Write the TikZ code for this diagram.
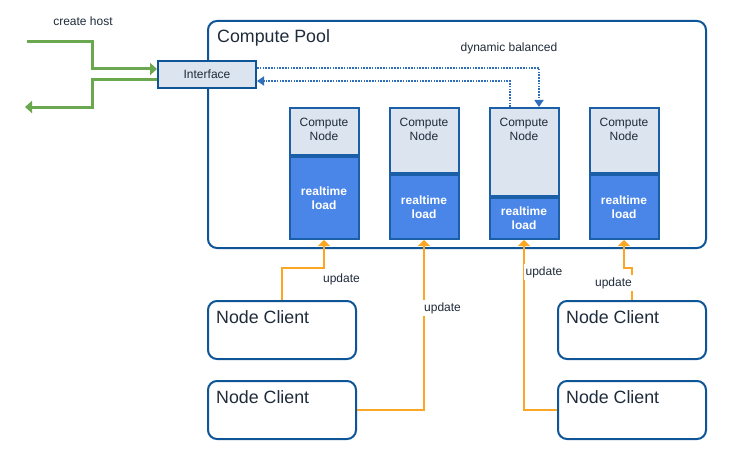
\documentclass[tikz,border=0pt]{standalone}
\usepackage{fontspec}
\setmainfont{Liberation Sans}
\usetikzlibrary{arrows.meta}
\definecolor{poolblue}{HTML}{0E5598}
\definecolor{nodeblue}{HTML}{1B5FA8}
\definecolor{headfill}{HTML}{DCE4EF}
\definecolor{loadfill}{HTML}{4A86E8}
\definecolor{dotblue}{HTML}{2F6EBA}
\definecolor{hostgreen}{HTML}{6AA84F}
\definecolor{updorange}{HTML}{FBA625}
\definecolor{ink}{HTML}{1F2B3A}
\begin{document}
\begin{tikzpicture}[x=1pt,y=-1pt]
\tikzstyle{every node}+=[font=\fontsize{12}{14}\selectfont, text=ink]
\tikzstyle{bigtext}=[font=\fontsize{17.8}{20}\selectfont]
\tikzstyle{pool}=[draw=poolblue, line width=2pt, rounded corners=9pt, minimum width=498pt, minimum height=227pt, inner sep=0pt]
\tikzstyle{client}=[draw=poolblue, line width=2pt, rounded corners=9pt, minimum width=148pt, minimum height=58pt, inner sep=0pt]
\tikzstyle{iface}=[draw=poolblue, fill=headfill, line width=2pt, minimum width=98pt, minimum height=27pt, inner sep=0pt]
\tikzstyle{cnhead}=[draw=nodeblue, fill=headfill, line width=2pt, minimum width=69pt, inner sep=0pt]
\tikzstyle{cnbody}=[draw=nodeblue, fill=loadfill, line width=2pt, minimum width=69pt, inner sep=0pt, anchor=north, align=center, text=white, font=\fontsize{12}{14}\selectfont\bfseries]
\tikzstyle{hostline}=[draw=hostgreen, line width=3pt, -{Triangle[width=12pt,length=7pt]}]
\tikzstyle{dotline}=[draw=dotblue, line width=1.8pt, dash pattern=on 1.6pt off 1.2pt, -{Triangle[width=9pt,length=7pt]}]
\tikzstyle{updline}=[draw=updorange, line width=2.5pt, -{Triangle[width=12pt,length=6pt]}]
\tikzstyle{updlabel}=[fill=white, inner sep=2pt]
\useasboundingbox (0,0) rectangle (734,460);
\node[pool, label={[bigtext, anchor=base west, inner sep=0pt, xshift=10pt, yshift=-23pt]north west:Compute Pool}] (pool) at (457,134.5) {};
\node[iface] (iface) at (207,74.5) {Interface};
\node[cnhead, minimum height=47pt, label={[anchor=north, align=center, inner sep=0pt, yshift=-11pt]north:Compute\\Node}] (cn1t) at (324,131.5) {};
\node[cnbody, minimum height=82pt] (cn1b) at (cn1t.south) {realtime\\load};
\node[cnhead, minimum height=65pt, label={[anchor=north, align=center, inner sep=0pt, yshift=-11pt]north:Compute\\Node}] (cn2t) at (424,140.5) {};
\node[cnbody, minimum height=64pt] (cn2b) at (cn2t.south) {realtime\\load};
\node[cnhead, minimum height=88pt, label={[anchor=north, align=center, inner sep=0pt, yshift=-11pt]north:Compute\\Node}] (cn3t) at (524,152) {};
\node[cnbody, minimum height=41pt] (cn3b) at (cn3t.south) {realtime\\load};
\node[cnhead, minimum height=65pt, label={[anchor=north, align=center, inner sep=0pt, yshift=-11pt]north:Compute\\Node}] (cn4t) at (624,140.5) {};
\node[cnbody, minimum height=64pt] (cn4b) at (cn4t.south) {realtime\\load};
\node[client, label={[bigtext, anchor=base west, inner sep=0pt, xshift=9pt, yshift=-23pt]north west:Node Client}] (nc1) at (282,330) {};
\node[client, label={[bigtext, anchor=base west, inner sep=0pt, xshift=9pt, yshift=-23pt]north west:Node Client}] (nc2) at (282,410) {};
\node[client, label={[bigtext, anchor=base west, inner sep=0pt, xshift=9pt, yshift=-23pt]north west:Node Client}] (nc3) at (632,330) {};
\node[client, label={[bigtext, anchor=base west, inner sep=0pt, xshift=9pt, yshift=-23pt]north west:Node Client}] (nc4) at (632,410) {};
\coordinate (hostin) at (27,42);
\coordinate (hostout) at (25,107);
\node (create) at (83,21) {create host};
\draw[hostline] (hostin) -- (92,42) |- ([yshift=5.5pt]iface.west);
\draw[hostline] ([yshift=-5.5pt]iface.west) -- (92,80) |- (hostout);
\node (balance) at (509,48) {dynamic balanced};
\draw[dotline] ([yshift=6.5pt]iface.east) -| ([xshift=15pt]cn3t.north);
\draw[dotline] ([xshift=-14pt]cn3t.north) |- ([yshift=-6.5pt]iface.east);
\draw[updline] (nc1.north) -- ++(0,-32) -| (cn1b.south);
\draw[updline] (nc2.east) -| (cn2b.south);
\draw[updline] (nc4.west) -| (cn3b.south);
\draw[updline] (nc3.north) -- ++(0,-32) -| (cn4b.south);
\node (upd1) at (341.5,279) {update};
\node[updlabel, anchor=west] (upd2) at (422,308) {update};
\node[updlabel] (upd3) at (544,272) {update};
\node[updlabel, anchor=east] (upd4) at (634,283) {update};
\end{tikzpicture}
\end{document}
